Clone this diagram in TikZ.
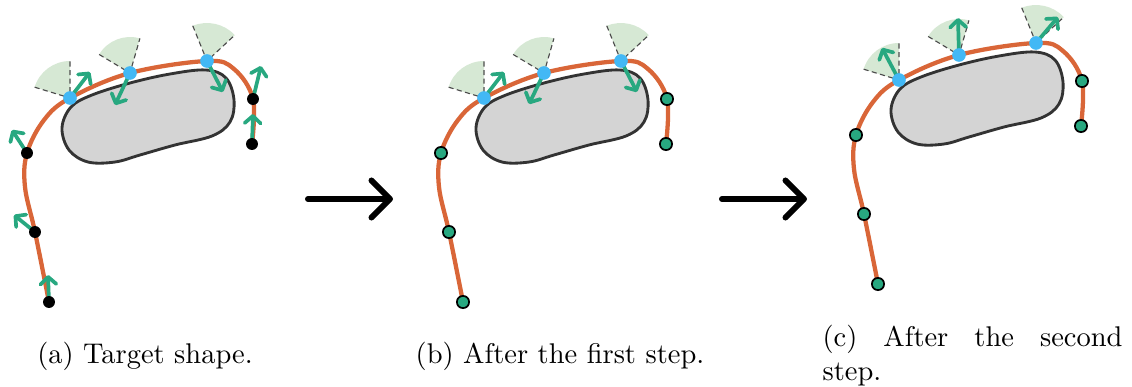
\documentclass[tikz,border=0pt]{standalone}
\usepackage{tikz}
\usetikzlibrary{arrows.meta}
\definecolor{curveorange}{RGB}{217,102,56}
\definecolor{normalgreen}{RGB}{40,168,128}
\definecolor{contactblue}{RGB}{66,184,245}
\definecolor{conegreen}{RGB}{214,232,212}
\definecolor{obstaclegray}{RGB}{212,212,212}

\begin{document}
\begin{tikzpicture}[
  x=0.351pt, y=-0.351pt,
  font=\normalsize,
  obstacle/.style={draw=black!80, fill=obstaclegray, line width=1pt},
  contour/.style={draw=curveorange, line width=1.5pt, line cap=round},
  cone/.style={fill=conegreen},
  coneedge/.style={draw=black!70, line width=0.4pt, dash pattern=on 1.8pt off 1.2pt},
  normalvec/.style={draw=normalgreen, line width=1.3pt,
    -{Straight Barb[length=2.6pt, width=5.6pt, round]}},
  fixeddot/.style={circle, fill=black, inner sep=0pt, minimum size=4.2pt},
  freedot/.style={circle, draw=black, fill=normalgreen, line width=0.6pt,
    inner sep=0pt, minimum size=4.3pt},
  contactdot/.style={circle, fill=contactblue, inner sep=0pt, minimum size=4.8pt},
  steparrow/.style={line width=2.1pt, line cap=round,
    -{Straight Barb[length=6.5pt, width=13pt, round]}},
  subcap/.style={anchor=base, inner sep=0pt}
]
  \useasboundingbox (0,0) rectangle (1132,387);

  % same obstacle and contour in all three panels
  \foreach \pn/\dx/\dy in {a/0/0, b/414/0, c/829/-18} {
    \begin{scope}[shift={(\dx,\dy)}]
      \coordinate (\pn1) at (49,302);
      \coordinate (\pn2) at (35,232);
      \coordinate (\pn3) at (27,153);
      \coordinate (\pn4) at (253,99);
      \coordinate (\pn5) at (252,144);
      \coordinate (\pn6) at (70,98);
      \coordinate (\pn7) at (130,73);
      \coordinate (\pn8) at (207,61);
      % cones at the contact points
      \foreach \q/\r/\s/\e in {6/37/-163/-90, 7/36/-149/-74, 8/38/-112/-43} {
        \fill[cone] (\pn\q) -- ++(\s:\r) arc[start angle=\s, end angle=\e, radius=\r] -- cycle;
        \draw[coneedge] (\pn\q) ++(\s:\r) -- (\pn\q) -- ++(\e:\r);
      }
      \draw[obstacle] plot[smooth cycle, tension=0.6] coordinates {
        (62,128) (71,107) (92,95) (130,83) (170,74) (206,70) (226,78)
        (234,100) (230,122) (212,136) (175,145) (140,155) (115,162)
        (88,162) (69,150)};
      \draw[contour] plot[smooth, tension=0.6] coordinates {
        (\pn1) (\pn2) (25,187) (\pn3) (44,120) (\pn6) (\pn7) (\pn8)
        (234,69) (\pn4) (\pn5)};
    \end{scope}
  }

  % normals
  \foreach \p/\x/\y in {a1/48/275, a2/14/215, a3/12/130, a4/261/66, a5/253/114,
      a6/90/72, a7/115/105, a8/223/92, b6/504/72, b7/529/104, b8/637/92,
      c6/882/48, c7/958/18, c8/1058/17} {
    \coordinate (\p n) at (\x,\y);
    \draw[normalvec] (\p) -- (\p n);
  }

  \foreach \p in {a1,a2,a3,a4,a5}
    \node[fixeddot] (\p dot) at (\p) {};
  \foreach \p in {b1,b2,b3,b4,b5,c1,c2,c3,c4,c5}
    \node[freedot] (\p dot) at (\p) {};
  \foreach \p in {a6,a7,a8,b6,b7,b8,c6,c7,c8}
    \node[contactdot] (\p dot) at (\p) {};

  \coordinate (ab0) at (308,199);
  \coordinate (ab1) at (393,199);
  \coordinate (bc0) at (722,199);
  \coordinate (bc1) at (807,199);
  \draw[steparrow] (ab0) -- (ab1);
  \draw[steparrow] (bc0) -- (bc1);

  \node[subcap] (capa) at (145,363) {(a) Target shape.};
  \node[subcap] (capb) at (560,363) {(b) After the first step.};
  \node[subcap, anchor=base west, text width=105.3pt, align=justify]
    (capc) at (822,346) {(c) After the second step.};
\end{tikzpicture}
\end{document}
